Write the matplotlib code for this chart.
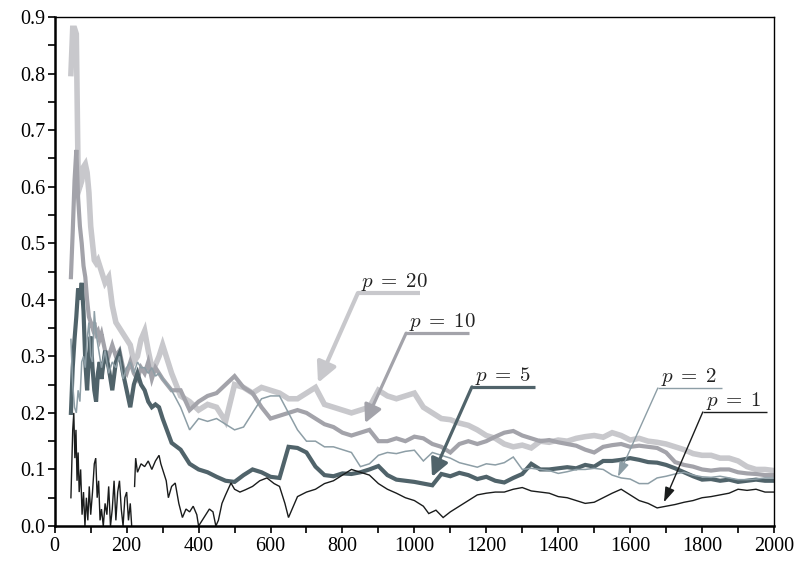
import matplotlib
matplotlib.use("Agg")
import matplotlib.pyplot as plt
import numpy as np
from matplotlib.ticker import MultipleLocator

plt.rcParams['font.family'] = ['Liberation Serif', 'DejaVu Serif']
plt.rcParams['mathtext.fontset'] = 'cm'

# sample positions shared by p = 20, 10, 5, 2
x = [45, 50, 55, 60, 65, 70, 75, 80, 85, 90, 95, 100, 105, 110, 115, 120, 125, 130,
     140, 150, 160, 170, 180, 190, 200, 210, 220, 230, 240, 250, 260, 270, 280, 290, 300,
     325, 350, 375, 400, 425, 450, 475, 500, 525, 550, 575, 600, 625, 650, 675, 700,
     725, 750, 775, 800, 825, 850, 875, 900, 925, 950, 975, 1000,
     1025, 1050, 1075, 1100, 1125, 1150, 1175, 1200, 1225, 1250, 1275, 1300,
     1325, 1350, 1375, 1400, 1425, 1450, 1475, 1500, 1525, 1550, 1575, 1600,
     1625, 1650, 1675, 1700, 1725, 1750, 1775, 1800, 1825, 1850, 1875, 1900,
     1925, 1950, 1975, 2000]

p20 = [0.80, 0.88, 0.88, 0.87, 0.62, 0.60, 0.61, 0.635, 0.64, 0.625, 0.59, 0.53, 0.50, 0.47,
       0.465, 0.47, 0.46, 0.45, 0.43, 0.44, 0.39, 0.36, 0.35, 0.34, 0.33, 0.32, 0.29, 0.30,
       0.33, 0.345, 0.31, 0.28, 0.285, 0.30, 0.32,
       0.27, 0.23, 0.22, 0.205, 0.215, 0.21, 0.185, 0.25, 0.245, 0.235, 0.245, 0.24,
       0.235, 0.225, 0.225, 0.235, 0.245, 0.215, 0.21, 0.205, 0.20, 0.205, 0.21, 0.24,
       0.23, 0.225, 0.23, 0.235, 0.21, 0.20, 0.19, 0.188, 0.182, 0.178, 0.17, 0.16,
       0.155, 0.145, 0.14, 0.143, 0.138, 0.15, 0.148, 0.152, 0.15, 0.155, 0.158, 0.16,
       0.157, 0.165, 0.16, 0.152, 0.155, 0.15, 0.148, 0.145, 0.14, 0.135, 0.128, 0.125,
       0.125, 0.12, 0.12, 0.115, 0.105, 0.10, 0.10, 0.098]

p10 = [0.44, 0.52, 0.61, 0.665, 0.58, 0.53, 0.50, 0.46, 0.44, 0.40, 0.37, 0.36, 0.35, 0.36,
       0.34, 0.345, 0.33, 0.34, 0.31, 0.30, 0.32, 0.30, 0.31, 0.28, 0.27, 0.29, 0.27, 0.26,
       0.28, 0.27, 0.29, 0.26, 0.28, 0.27, 0.26,
       0.24, 0.24, 0.205, 0.22, 0.23, 0.235, 0.25, 0.265, 0.245, 0.235, 0.21, 0.19,
       0.195, 0.20, 0.205, 0.20, 0.19, 0.18, 0.175, 0.165, 0.16, 0.165, 0.17, 0.15,
       0.15, 0.155, 0.15, 0.158, 0.155, 0.145, 0.14, 0.13, 0.145, 0.15, 0.145, 0.15,
       0.158, 0.165, 0.168, 0.16, 0.155, 0.15, 0.152, 0.148, 0.145, 0.142, 0.135, 0.13,
       0.14, 0.143, 0.145, 0.14, 0.142, 0.14, 0.138, 0.13, 0.113, 0.108, 0.105, 0.10,
       0.098, 0.10, 0.10, 0.095, 0.093, 0.092, 0.09, 0.09]

p5 = [0.20, 0.28, 0.33, 0.37, 0.42, 0.40, 0.43, 0.38, 0.29, 0.24, 0.30, 0.335, 0.28, 0.24,
      0.22, 0.27, 0.29, 0.26, 0.31, 0.28, 0.24, 0.29, 0.305, 0.27, 0.24, 0.21, 0.25, 0.27,
      0.25, 0.24, 0.22, 0.21, 0.215, 0.21, 0.19,
      0.147, 0.135, 0.11, 0.10, 0.095, 0.087, 0.08, 0.078, 0.09, 0.10, 0.095, 0.087,
      0.085, 0.14, 0.138, 0.13, 0.105, 0.09, 0.088, 0.093, 0.092, 0.095, 0.10, 0.106,
      0.09, 0.082, 0.08, 0.078, 0.075, 0.072, 0.092, 0.088, 0.094, 0.09, 0.083, 0.087,
      0.08, 0.077, 0.085, 0.092, 0.11, 0.10, 0.10, 0.102, 0.104, 0.102, 0.108, 0.105,
      0.115, 0.115, 0.117, 0.12, 0.117, 0.113, 0.112, 0.108, 0.102, 0.095, 0.088, 0.082,
      0.083, 0.08, 0.082, 0.078, 0.08, 0.082, 0.08, 0.08]

p2 = [0.33, 0.25, 0.21, 0.20, 0.24, 0.22, 0.29, 0.30, 0.28, 0.33, 0.36, 0.30, 0.29, 0.38,
      0.34, 0.32, 0.30, 0.28, 0.31, 0.27, 0.29, 0.28, 0.30, 0.26, 0.28, 0.29, 0.27, 0.29,
      0.28, 0.28, 0.27, 0.28, 0.265, 0.27, 0.26,
      0.24, 0.21, 0.17, 0.19, 0.185, 0.19, 0.18, 0.17, 0.175, 0.20, 0.225, 0.23,
      0.23, 0.20, 0.17, 0.15, 0.15, 0.14, 0.14, 0.135, 0.13, 0.105, 0.11, 0.125,
      0.13, 0.128, 0.132, 0.134, 0.115, 0.13, 0.125, 0.12, 0.112, 0.108, 0.104, 0.11,
      0.108, 0.112, 0.122, 0.10, 0.102, 0.10, 0.098, 0.093, 0.096, 0.10, 0.10, 0.102,
      0.10, 0.09, 0.085, 0.083, 0.075, 0.075, 0.085, 0.088, 0.092, 0.095, 0.09, 0.087,
      0.086, 0.088, 0.085, 0.082, 0.082, 0.083, 0.085, 0.085]

# p = 1 has its own, denser start (nan = the gap where it leaves the axes)
x1 = [45, 48, 50, 53, 56, 59, 62, 65, 68, 72, 76, 80, 84, 88, 92, 96, 100, 105, 110, 114,
      118, 122, 126, 130, 135, 140, 145, 150, 155, 160, 165, 170, 175, 180, 185, 190, 195,
      200, 205, 210, 214, 218, 222, 225, 230, 240, 250, 260, 270, 280, 290, 295, 300, 310,
      316, 325, 335, 345, 355, 365, 375, 385, 395, 400, 410, 420, 430, 440, 448, 455, 465,
      475, 490, 500, 515, 530, 550, 570, 590, 610, 625, 640, 650, 660, 675, 700, 725, 750,
      775, 800, 825, 850, 875, 900, 925, 950, 975, 1000, 1025, 1040, 1060, 1080, 1100,
      1125, 1150, 1175, 1200, 1225, 1250, 1275, 1300, 1325, 1350, 1375, 1400, 1425, 1450,
      1475, 1500, 1525, 1550, 1575, 1600, 1625, 1650, 1675, 1700, 1725, 1750, 1775, 1800,
      1825, 1850, 1875, 1900, 1925, 1950, 1975, 2000]
p1 = [0.05, 0.12, 0.17, 0.20, 0.12, 0.17, 0.08, 0.13, 0.06, 0.10, 0.02, 0.06, 0.0, 0.05,
      0.01, 0.07, 0.02, 0.06, 0.11, 0.12, 0.05, 0.08, 0.01, 0.03, 0.0, 0.04, 0.02, 0.07,
      0.0, 0.03, 0.08, 0.01, 0.06, 0.08, 0.03, 0.0, 0.05, 0.06, 0.01, 0.04, 0.0, np.nan,
      0.07, 0.12, 0.095, 0.11, 0.105, 0.115, 0.10, 0.115, 0.125, 0.11, 0.10, 0.08, 0.05,
      0.07, 0.076, 0.04, 0.015, 0.03, 0.025, 0.035, 0.02, 0.0, 0.01, 0.02, 0.03, 0.025,
      0.0, 0.01, 0.04, 0.055, 0.076, 0.065, 0.06, 0.064, 0.07, 0.08, 0.085, 0.075, 0.07,
      0.04, 0.015, 0.03, 0.052, 0.06, 0.065, 0.075, 0.08, 0.09, 0.10, 0.095, 0.09, 0.075,
      0.065, 0.058, 0.05, 0.045, 0.035, 0.022, 0.028, 0.015, 0.025, 0.035, 0.045, 0.055,
      0.058, 0.06, 0.06, 0.065, 0.068, 0.062, 0.06, 0.058, 0.052, 0.05, 0.045, 0.04, 0.042,
      0.05, 0.058, 0.065, 0.055, 0.045, 0.04, 0.032, 0.035, 0.038, 0.042, 0.045, 0.05,
      0.052, 0.055, 0.058, 0.065, 0.063, 0.065, 0.06, 0.06]

# label, line end x, corner (x, y), arrow tip (x, y)
labels = [r'$p\;=\;20$', r'$p\;=\;10$', r'$p\;=\;5$', r'$p\;=\;2$', r'$p\;=\;1$']
label_corner = [(843, 0.412), (977, 0.341), (1160, 0.246), (1677, 0.244), (1802, 0.2016)]
label_end = [1016, 1152, 1335, 1855, 1980]
label_tip = [(732, 0.253), (863, 0.182), (1049, 0.087), (1566, 0.087), (1694, 0.042)]

colors = ['#c8c8cc', '#a3a3aa', '#50636a', '#8d9ea6', '#1a1c1c']
widths = [4.0, 3.0, 3.0, 1.1, 1.0]

fig = plt.figure(figsize=(8.05, 5.67), dpi=100)
ax = fig.add_axes([0.068, 0.0723, 0.8935, 0.8977])

series = [(x, p20), (x, p10), (x, p5), (x, p2), (x1, p1)]
for (xs, ys), c, w in zip(series, colors, widths):
    ax.plot(xs, ys, color=c, lw=w, solid_joinstyle='miter')

head = [(0.6, 0.3, 20), (0.6, 0.3, 18), (0.6, 0.3, 18), (0.9, 0.3, 10), (0.9, 0.3, 10)]
lab_w = [3.0, 2.3, 2.3, 1.0, 1.0]
for lab, (cx, cy), ex, tip, c, lw, (hl, hw, ms) in zip(labels, label_corner, label_end,
                                                       label_tip, colors, lab_w, head):
    ax.plot([cx, ex], [cy, cy], color=c, lw=lw, solid_capstyle='butt')
    ax.annotate('', xy=tip, xytext=(cx, cy),
                arrowprops=dict(arrowstyle=f'-|>,head_length={hl},head_width={hw}',
                                color=c, lw=lw, shrinkA=0, shrinkB=0, mutation_scale=ms))
    ax.text(cx + 8, cy + 0.011, lab, fontsize=15, color='#222222', ha='left', va='baseline')

ax.set_xlim(0, 2000)
ax.set_ylim(0, 0.9)
ax.xaxis.set_major_locator(MultipleLocator(200))
ax.xaxis.set_minor_locator(MultipleLocator(100))
ax.yaxis.set_major_locator(MultipleLocator(0.1))
ax.yaxis.set_minor_locator(MultipleLocator(0.05))
ax.yaxis.set_major_formatter(matplotlib.ticker.FormatStrFormatter('%.1f'))
ax.tick_params(which='both', direction='out', length=5, width=1.2, labelsize=14.5)
ax.tick_params(axis='x', pad=3)
ax.tick_params(axis='y', pad=2)

for s in ['left', 'bottom']:
    ax.spines[s].set_linewidth(1.8)
for s in ['top', 'right']:
    ax.spines[s].set_linewidth(1.0)

fig.savefig('out.png', dpi=100)
